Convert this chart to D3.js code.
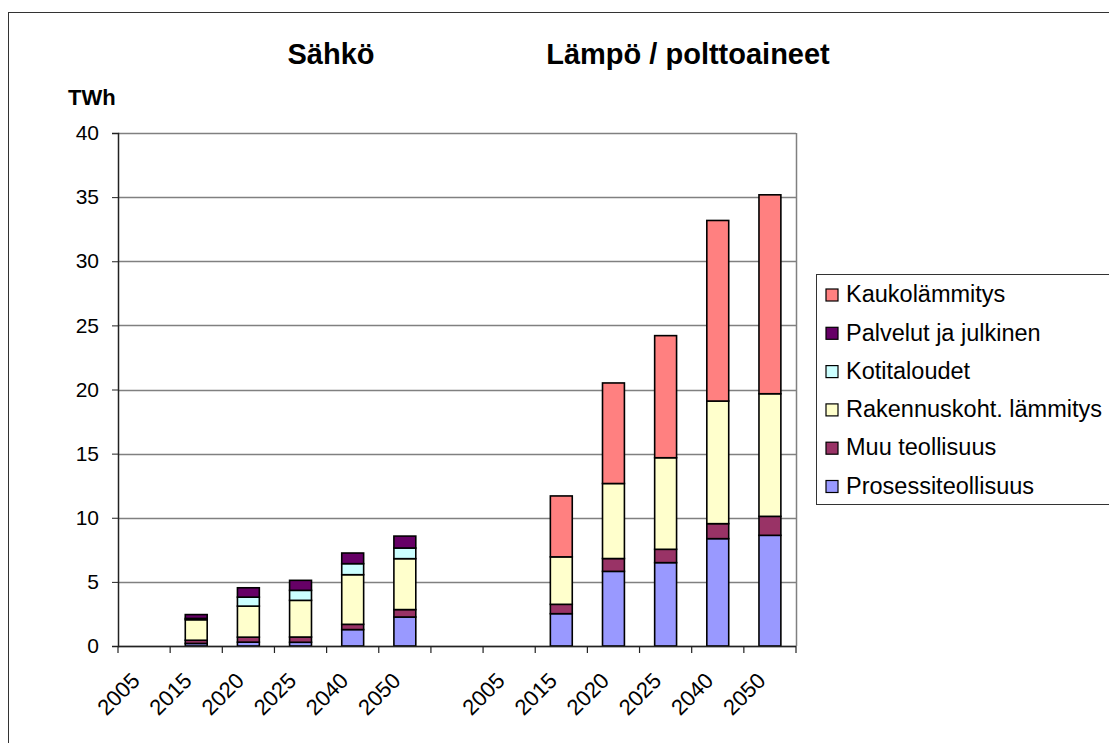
<!DOCTYPE html>
<html>
<head>
<meta charset="utf-8">
<script src="https://cdn.jsdelivr.net/npm/d3@7"></script>
<style>
  html, body { margin: 0; padding: 0; background: #fff; }
  svg { display: block; font-family: "Liberation Sans", Arial, sans-serif; }
</style>
</head>
<body>
<svg id="chart" width="1109" height="743"></svg>
<script>
// ── DATA ────────────────────────────────────────────────────────────────────
// 13 slots: Sähkö group, one empty spacer, Lämpö / polttoaineet group
const categories = ['2005', '2015', '2020', '2025', '2040', '2050', '', '2005', '2015', '2020', '2025', '2040', '2050'];

const seriesNames = ['Prosessiteollisuus', 'Muu teollisuus', 'Rakennuskoht. lämmitys', 'Kotitaloudet', 'Palvelut ja julkinen', 'Kaukolämmitys'];
const seriesColors = ['#9999FF', '#993366', '#FFFFCC', '#CCFFFF', '#660066', '#FF8080'];

const prosessiteollisuus = [0, 0.2, 0.3, 0.29, 1.28, 2.26, 0, 0, 2.52, 5.82, 6.5, 8.37, 8.63];
const muuTeollisuus      = [0, 0.25, 0.39, 0.41, 0.41, 0.58, 0, 0, 0.73, 1.0, 1.04, 1.17, 1.48];
const rakennuskoht       = [0, 1.6, 2.42, 2.86, 3.87, 3.97, 0, 0, 3.7, 5.85, 7.14, 9.56, 9.56];
const kotitaloudet       = [0, 0.1, 0.7, 0.78, 0.86, 0.83, 0, 0, 0, 0, 0, 0, 0];
const palvelut           = [0, 0.3, 0.73, 0.78, 0.83, 0.93, 0, 0, 0, 0, 0, 0, 0];
const kaukolammitys      = [0, 0, 0, 0, 0, 0, 0, 0, 4.75, 7.84, 9.52, 14.08, 15.51];

const yTicks = [0, 5, 10, 15, 20, 25, 30, 35, 40];

// ── LAYOUT ──────────────────────────────────────────────────────────────────
const svg = d3.select('#chart');
const plot = { left: 118, right: 796, top: 133, bottom: 646 };

// outer chart border
svg.append('rect')
  .attr('x', 8.5).attr('y', 12.5)
  .attr('width', 1200).attr('height', 800)
  .attr('fill', 'none').attr('stroke', '#333').attr('stroke-width', 1);

const rows = categories.map((c, i) => {
  const r = { idx: i, label: c };
  r[seriesNames[0]] = prosessiteollisuus[i];
  r[seriesNames[1]] = muuTeollisuus[i];
  r[seriesNames[2]] = rakennuskoht[i];
  r[seriesNames[3]] = kotitaloudet[i];
  r[seriesNames[4]] = palvelut[i];
  r[seriesNames[5]] = kaukolammitys[i];
  return r;
});

const x = d3.scaleBand()
  .domain(d3.range(categories.length))
  .range([plot.left, plot.right])
  .paddingInner(0.58)
  .paddingOuter(0.29);

const slot = d3.scaleBand()
  .domain(d3.range(categories.length))
  .range([plot.left, plot.right]);

const y = d3.scaleLinear().domain([0, 40]).range([plot.bottom, plot.top]);

const color = d3.scaleOrdinal().domain(seriesNames).range(seriesColors);

// ── GRID ────────────────────────────────────────────────────────────────────
svg.append('g')
  .selectAll('line')
  .data(yTicks)
  .join('line')
  .attr('x1', plot.left).attr('x2', plot.right)
  .attr('y1', d => Math.round(y(d)) + 0.5).attr('y2', d => Math.round(y(d)) + 0.5)
  .attr('stroke', '#808080').attr('stroke-width', 1.5);

// right edge of plot area
svg.append('line')
  .attr('x1', plot.right + 0.5).attr('x2', plot.right + 0.5)
  .attr('y1', plot.top).attr('y2', plot.bottom)
  .attr('stroke', '#808080').attr('stroke-width', 1.5);

// ── BARS ────────────────────────────────────────────────────────────────────
const stacked = d3.stack().keys(seriesNames)(rows);

const layers = svg.append('g')
  .selectAll('g')
  .data(stacked)
  .join('g')
  .attr('fill', d => color(d.key));

layers.selectAll('rect')
  .data(d => d.filter(s => s[1] - s[0] > 0))
  .join('rect')
  .attr('x', d => x(d.data.idx))
  .attr('width', x.bandwidth())
  .attr('y', d => y(d[1]))
  .attr('height', d => y(d[0]) - y(d[1]))
  .attr('stroke', '#000')
  .attr('stroke-width', 1.6);

// ── AXES ────────────────────────────────────────────────────────────────────
const yAxis = svg.append('g')
  .attr('transform', `translate(${plot.left},0)`)
  .call(d3.axisLeft(y).tickValues(yTicks).tickSize(6).tickPadding(13));
yAxis.select('.domain').attr('stroke', '#222').attr('stroke-width', 1.5);
yAxis.selectAll('.tick line').attr('stroke', '#222');
yAxis.selectAll('.tick text')
  .attr('font-size', 21).attr('fill', '#000')
  .attr('font-family', '"Liberation Sans", Arial, sans-serif');

// x axis: ticks on slot boundaries
const xAxis = svg.append('g');
xAxis.append('line')
  .attr('x1', plot.left).attr('x2', plot.right)
  .attr('y1', plot.bottom + 0.5).attr('y2', plot.bottom + 0.5)
  .attr('stroke', '#222').attr('stroke-width', 1.5);
xAxis.selectAll('line.tick')
  .data(d3.range(categories.length + 1))
  .join('line')
  .attr('class', 'tick')
  .attr('x1', i => plot.left + i * slot.step()).attr('x2', i => plot.left + i * slot.step())
  .attr('y1', plot.bottom).attr('y2', plot.bottom + 7)
  .attr('stroke', '#222').attr('stroke-width', 1.2);
xAxis.selectAll('text')
  .data(rows.filter(r => r.label))
  .join('text')
  .attr('transform', d => `translate(${slot(d.idx) + slot.bandwidth() / 2 - 3},${plot.bottom + 36}) rotate(-45)`)
  .attr('text-anchor', 'end')
  .attr('font-size', 22)
  .text(d => d.label);

// ── TITLES ──────────────────────────────────────────────────────────────────
svg.append('text')
  .attr('x', 331).attr('y', 64)
  .attr('text-anchor', 'middle')
  .attr('font-size', 29).attr('font-weight', 'bold')
  .text('Sähkö');
svg.append('text')
  .attr('x', 688).attr('y', 64)
  .attr('text-anchor', 'middle')
  .attr('font-size', 29).attr('font-weight', 'bold')
  .text('Lämpö / polttoaineet');
svg.append('text')
  .attr('x', 68).attr('y', 105)
  .attr('font-size', 22).attr('font-weight', 'bold')
  .text('TWh');

// ── LEGEND ──────────────────────────────────────────────────────────────────
const legend = svg.append('g');
legend.append('rect')
  .attr('x', 816.5).attr('y', 274.5)
  .attr('width', 320).attr('height', 230)
  .attr('fill', '#fff').attr('stroke', '#333').attr('stroke-width', 1);

const legendItems = legend.selectAll('g.item')
  .data(seriesNames.slice().reverse())
  .join('g')
  .attr('class', 'item')
  .attr('transform', (d, i) => `translate(826,${294 + i * 38.3})`);
legendItems.append('rect')
  .attr('x', 0).attr('y', -5)
  .attr('width', 12).attr('height', 12)
  .attr('fill', d => color(d))
  .attr('stroke', '#000').attr('stroke-width', 1.2);
legendItems.append('text')
  .attr('x', 20).attr('dy', '0.35em')
  .attr('font-size', 23.5)
  .text(d => d);
</script>
</body>
</html>
